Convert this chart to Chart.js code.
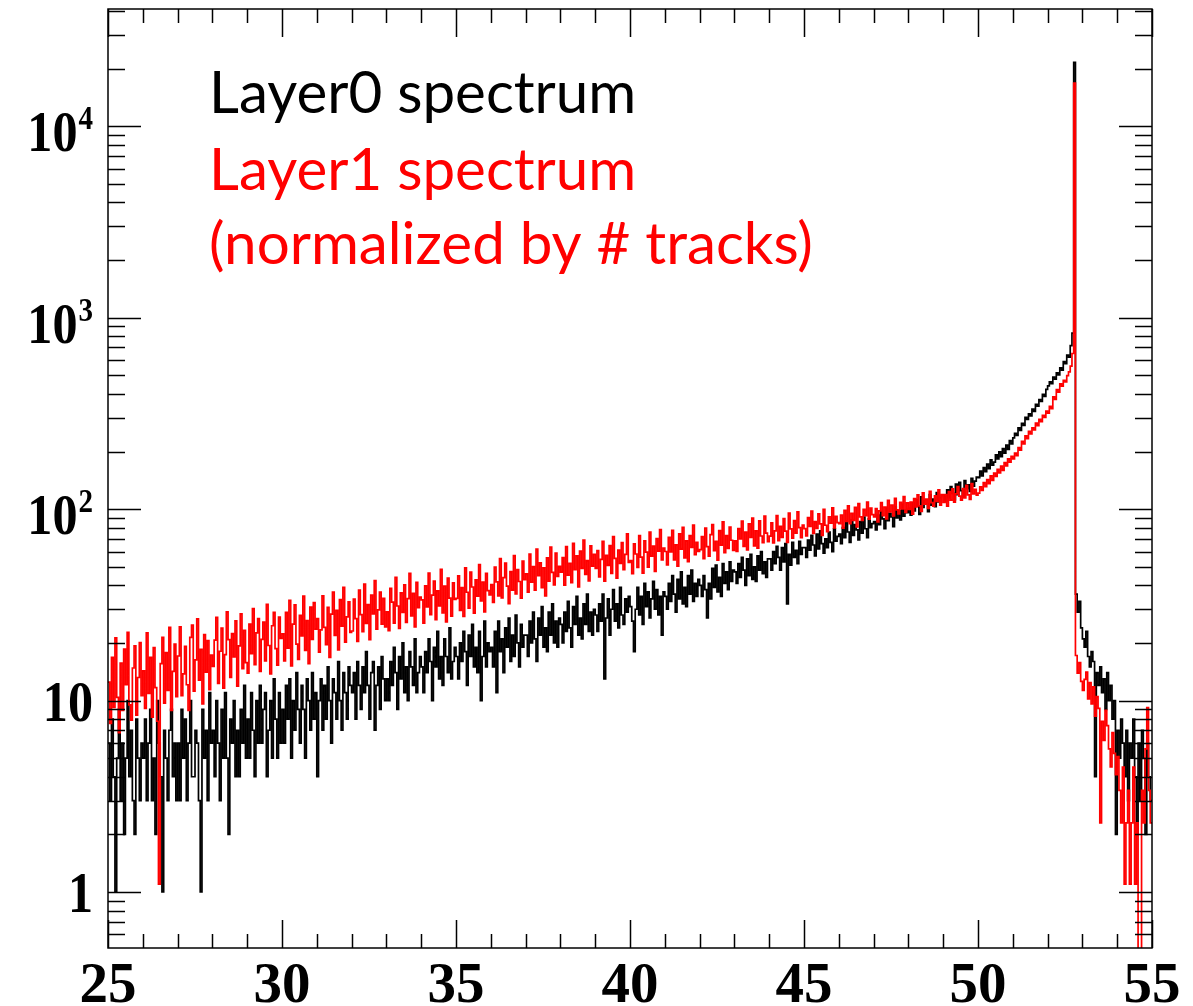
<!DOCTYPE html>
<html><head><meta charset="utf-8">
<script src="https://cdn.jsdelivr.net/npm/chart.js@4.4.1/dist/chart.umd.min.js"></script>
<style>html,body{margin:0;padding:0;background:#fff;} #wrap{width:1193px;height:1006px;position:relative;}</style>
</head><body><div id="wrap"><canvas id="c"></canvas></div>
<script>
// Histogram binning (bin low edges start at 25, width 0.05, 600 bins)
const binStart = 25;
const binWidth = 0.05;

// Layer0 spectrum (black), one row per unit of x
const layer0 = [
  6, 3, 8, 4, 1, 5, 9, 3, 6, 2, 5, 10, 4, 7, 3, 2, 8, 5, 3, 6,
  5, 8, 3, 6, 9, 3, 5, 2, 10, 6, 4, 1, 7, 5, 3, 7, 9, 4, 6, 3,
  6, 3, 9, 5, 8, 3, 6, 10, 4, 4, 7, 6, 3, 1, 9, 5, 7, 3, 11, 6,
  7, 4, 10, 6, 3, 9, 5, 11, 5, 2, 8, 6, 10, 4, 7, 4, 9, 6, 12, 5,
  8, 5, 11, 7, 4, 10, 6, 12, 6, 9, 11, 4, 7, 10, 5, 13, 8, 5, 11, 6,
  9, 6, 12, 8, 13, 5, 10, 7, 14, 9, 6, 12, 9, 5, 13, 10, 7, 14, 8, 11,
  4, 10, 13, 7, 12, 8, 15, 10, 6, 13, 11, 8, 16, 10, 7, 14, 11, 8, 15, 12,
  11, 14, 8, 16, 12, 9, 15, 11, 18, 12, 8, 14, 16, 7, 12, 15, 9, 17, 13, 10,
  13, 10, 16, 12, 19, 14, 9, 17, 13, 20, 11, 15, 10, 18, 15, 12, 21, 11, 14, 17,
  15, 11, 18, 14, 21, 16, 10, 19, 15, 23, 13, 17, 12, 21, 17, 14, 24, 13, 16, 19,
  17, 13, 20, 16, 23, 18, 12, 22, 17, 25, 15, 19, 14, 23, 10, 17, 26, 15, 20, 18,
  19, 15, 23, 11, 26, 18, 21, 14, 24, 19, 27, 16, 22, 17, 28, 20, 15, 25, 19, 22,
  22, 17, 26, 20, 29, 21, 16, 27, 22, 31, 19, 24, 18, 29, 22, 32, 20, 26, 19, 27,
  25, 20, 29, 23, 33, 24, 19, 31, 25, 35, 22, 27, 21, 32, 25, 36, 23, 29, 22, 30,
  28, 23, 32, 26, 36, 13, 27, 34, 22, 30, 38, 26, 32, 24, 39, 28, 25, 34, 29, 35,
  31, 26, 18, 30, 39, 28, 35, 25, 41, 31, 37, 27, 34, 42, 30, 38, 28, 35, 22, 37,
  35, 30, 41, 33, 45, 36, 29, 43, 34, 47, 32, 39, 31, 45, 36, 48, 33, 41, 35, 43,
  40, 35, 45, 38, 27, 41, 34, 49, 39, 51, 37, 44, 35, 52, 41, 47, 38, 53, 42, 48,
  47, 41, 52, 44, 56, 48, 40, 55, 45, 58, 43, 50, 42, 57, 48, 60, 46, 53, 44, 55,
  55, 48, 60, 52, 64, 56, 48, 63, 53, 66, 32, 58, 51, 67, 56, 61, 52, 68, 58, 63,
  63, 56, 69, 61, 73, 65, 57, 74, 62, 77, 66, 59, 70, 63, 76, 67, 60, 79, 68, 72,
  74, 66, 80, 71, 85, 76, 67, 88, 73, 83, 78, 69, 86, 75, 91, 79, 71, 89, 80, 84,
  86, 78, 93, 83, 97, 89, 79, 101, 87, 95, 91, 81, 103, 90, 98, 88, 106, 92, 99, 96,
  101, 93, 108, 98, 112, 104, 94, 116, 102, 111, 107, 97, 119, 105, 113, 103, 122, 109, 115, 118,
  118, 110, 126, 115, 131, 121, 112, 135, 119, 138, 125, 116, 141, 128, 134, 124, 145, 132, 140, 147,
  146, 158, 149, 165, 157, 172, 163, 181, 170, 176, 192, 183, 199, 188, 207, 196, 216, 205, 228, 219,
  236, 249, 243, 266, 258, 281, 274, 302, 294, 315, 307, 333, 324, 353, 345, 374, 365, 398, 388, 422,
  441, 462, 452, 489, 478, 516, 503, 548, 532, 590, 575, 638, 622, 715, 830, 21600, 36, 29, 33, 24,
  21, 19, 23, 17, 15, 18, 16, 4, 14, 12, 15, 11, 13, 9, 14, 10, 12, 8, 10, 2,
  7, 5, 8, 6, 4, 7, 3, 6, 5, 8, 4, 2, 6, 3, 7, 5, 2, 6, 4, 3
];

// Layer1 spectrum (red, normalized by # tracks), same bins
const layer1 = [
  12.5, 7.6, 16.8, 9.2, 21.3, 10.4, 6.8, 15.7, 8.9, 18.6, 12.1, 22.7, 9.5, 7.9, 14.8, 19.3, 8.4, 13.2, 20.1, 10.6,
  14.3, 9.1, 22.6, 10.9, 16.8, 8.2, 18.9, 11.7, 7.8, 1.1, 15.6, 21.4, 9.7, 17.8, 11.3, 24.1, 8.9, 14.2, 19.7, 10.5,
  17.1, 24.3, 10.6, 13.8, 19.2, 12.1, 8.9, 21.4, 24.8, 11.2, 16.3, 26.7, 12.8, 18.5, 9.6, 22.1, 14.1, 20.6, 11.4, 17.3,
  15.1, 20.7, 27.2, 12.3, 18.1, 23.9, 11.6, 17.4, 29.1, 20.8, 13.2, 22.4, 16.9, 26.1, 11.9, 19.3, 28.4, 14.7, 23.3, 15.8,
  13.9, 25.1, 17.6, 30.2, 15.4, 22.6, 26.8, 14.2, 20.9, 25.7, 16.1, 31.8, 19.4, 13.8, 24.6, 28.9, 18.7, 15.3, 27.3, 21.1,
  22.3, 16.1, 28.9, 18.8, 33.4, 15.2, 25.1, 31.6, 19.7, 16.4, 27.9, 21.8, 35.1, 18.3, 26.2, 15.6, 30.8, 20.9, 32.5, 23.6,
  26.8, 17.9, 23.4, 35.2, 24.1, 19.6, 30.7, 16.8, 28.3, 36.9, 21.9, 29.6, 18.4, 33.7, 24.5, 39.1, 20.2, 27.4, 32.8, 22.7,
  23.1, 33.9, 26.8, 20.4, 37.8, 28.1, 22.9, 40.6, 25.3, 31.7, 20.8, 35.6, 28.4, 42.3, 23.6, 29.8, 36.9, 25.1, 34.2, 24.3,
  29.1, 23.2, 38.6, 32.7, 25.4, 44.1, 31.2, 23.8, 36.5, 28.9, 40.2, 25.6, 34.1, 46.2, 27.7, 36.3, 24.3, 41.5, 30.6, 34.7,
  33.6, 25.4, 39.8, 30.9, 46.3, 28.1, 35.6, 42.1, 26.5, 37.4, 31.2, 48.5, 28.7, 39.6, 25.8, 43.7, 34.3, 27.6, 41.2, 33.8,
  34.2, 44.8, 29.6, 38.9, 27.5, 49.3, 36.8, 30.4, 46.9, 39.2, 28.6, 42.7, 35.1, 51.4, 33.2, 41.6, 29.1, 46.2, 37.5, 35.7,
  40.3, 32.6, 49.8, 41.7, 35.2, 55.1, 34.4, 43.9, 52.3, 39.6, 32.1, 47.2, 37.8, 57.2, 36.1, 48.4, 41.9, 34.3, 53.6, 42.8,
  45.9, 36.8, 58.2, 41.6, 50.1, 37.7, 61.8, 44.9, 52.4, 38.9, 49.3, 35.2, 55.7, 42.1, 63.4, 46.8, 40.2, 58.9, 44.6, 50.3,
  46.9, 55.8, 40.1, 63.7, 45.2, 52.1, 41.3, 66.2, 48.3, 57.1, 39.2, 60.4, 49.1, 68.9, 45.6, 53.9, 42.2, 64.3, 50.4, 58.1,
  49.1, 60.8, 44.3, 54.6, 67.9, 42.1, 57.4, 50.9, 64.6, 46.2, 71.8, 55.3, 43.6, 61.2, 52.1, 66.9, 48.3, 58.1, 74.2, 52.7,
  53.8, 46.1, 65.9, 58.3, 49.7, 72.8, 56.2, 46.3, 68.4, 59.7, 49.8, 75.9, 56.9, 64.2, 47.3, 70.1, 60.3, 78.1, 54.4, 62.6,
  60.1, 51.2, 71.2, 59.8, 77.6, 54.3, 65.1, 50.4, 74.2, 61.9, 80.4, 55.7, 68.3, 53.2, 72.8, 63.2, 82.6, 57.8, 67.1, 60.2,
  61.5, 71.8, 55.2, 79.6, 63.8, 56.9, 73.6, 83.1, 60.7, 67.9, 54.1, 77.2, 64.9, 85.9, 59.2, 72.8, 62.4, 80.6, 68.8, 60.9,
  68.4, 60.2, 79.2, 69.9, 86.7, 63.9, 75.8, 61.2, 83.9, 71.1, 89.8, 64.3, 77.1, 62.6, 86.8, 72.4, 66.8, 91.9, 74.9, 67.7,
  72.3, 84.9, 66.7, 77.1, 92.6, 68.4, 81.3, 71.2, 89.4, 76.8, 67.1, 95.3, 78.9, 70.6, 87.2, 74.9, 96.8, 80.1, 70.9, 82.6,
  79.1, 72.6, 90.4, 81.2, 97.8, 74.8, 86.1, 79.3, 94.6, 83.7, 72.9, 99.8, 82.4, 76.2, 91.1, 84.6, 101.7, 79.8, 91.6, 85.1,
  84.1, 93.2, 79.5, 98.6, 86.3, 104.2, 84.1, 95.2, 87.4, 102.1, 80.7, 106.8, 91.2, 87.3, 99.8, 92.4, 108.9, 88.7, 101.3, 93.6,
  91.2, 100.6, 85.8, 97.9, 108.1, 92.4, 102.6, 88.9, 111.2, 96.8, 104.9, 92.1, 113.8, 99.2, 94.6, 108.7, 100.3, 116.4, 96.1, 107.8,
  99.8, 108.9, 94.2, 113.6, 102.8, 118.7, 104.1, 97.2, 121.6, 106.3, 112.8, 100.9, 123.9, 108.2, 103.6, 117.4, 109.8, 126.3, 105.1, 119.2,
  108.4, 119.1, 103.7, 123.4, 111.6, 127.8, 108.9, 120.3, 131.2, 117.1, 111.3, 128.2, 114.6, 133.1, 118.7, 112.4, 135.8, 120.1, 126.9, 118.2,
  121.2, 130.8, 125.4, 137.6, 131.2, 142.8, 136.1, 149.2, 141.3, 154.1, 148.2, 161.3, 154.7, 167.9, 159.6, 175.2, 168.1, 183.4, 176.2, 188.9,
  183.2, 196.1, 190.4, 209.8, 203.3, 226.1, 219.4, 241.2, 233.7, 254.6, 247.1, 266.2, 259.8, 281.3, 273.2, 294.6, 286.4, 309.2, 301.5, 324.8,
  316.9, 344.2, 335.4, 386.1, 374.2, 421.3, 408.5, 452.1, 438.9, 471.3, 462.6, 498.2, 521.4, 558.7, 650.3, 16800, 17.2, 13.9, 15.8, 12.6,
  11.3, 12.9, 14.1, 10.2, 12.4, 9.6, 11.8, 8.3, 10.5, 9.1, 2.3, 7.8, 6.2, 8.9, 7.4, 5.6, 4.5, 6.8, 5.3, 4.1,
  5.1, 3.4, 2.3, 4.5, 1.1, 2.3, 3.4, 1.1, 2.3, 4.5, 1.1, 2.3, 0.2, 0.2, 3.4, 2.3, 5.6, 9.2, 3.4, 2.3
];

// Axis tick labels
const xTickLabels = ['25', '30', '35', '40', '45', '50', '55'];
const yTickValues = [1, 10, 100, 1000, 10000];
const yTickBase = ['1', '10', '10', '10', '10'];
const yTickExp = ['', '', '2', '3', '4'];

// Text block
const legendLines = ['Layer0 spectrum', 'Layer1 spectrum', '(normalized by # tracks)'];
const legendColors = ['#000000', '#ff0000', '#ff0000'];

function toSteps(vals) {
  const pts = vals.map((v, i) => ({ x: binStart + i * binWidth, y: v }));
  pts.push({ x: binStart + vals.length * binWidth, y: vals[vals.length - 1] });
  return pts;
}

const rootAxes = {
  id: 'rootAxes',
  afterDraw(chart) {
    const ctx = chart.ctx;
    const a = chart.chartArea;
    const xs = chart.scales.x, ys = chart.scales.y;
    ctx.save();
    ctx.strokeStyle = '#000';
    ctx.lineWidth = 1.5;
    ctx.strokeRect(a.left, a.top, a.right - a.left, a.bottom - a.top);
    ctx.beginPath();
    for (let v = xs.min; v <= xs.max + 1e-9; v += 1) {
      const px = Math.round(xs.getPixelForValue(v)) + 0.5;
      const len = (Math.round(v) % 5 === 0) ? 28 : 14;
      ctx.moveTo(px, a.bottom); ctx.lineTo(px, a.bottom - len);
      ctx.moveTo(px, a.top); ctx.lineTo(px, a.top + len);
    }
    for (let d = -1; d <= 4; d++) {
      for (let m = 1; m <= 9; m++) {
        const v = m * Math.pow(10, d);
        if (v < ys.min || v > ys.max) continue;
        const py = Math.round(ys.getPixelForValue(v)) + 0.5;
        const len = m === 1 ? 33 : 17;
        ctx.moveTo(a.left, py); ctx.lineTo(a.left + len, py);
        ctx.moveTo(a.right, py); ctx.lineTo(a.right - len, py);
      }
    }
    ctx.stroke();
    ctx.fillStyle = '#000';
    ctx.textAlign = 'center';
    ctx.textBaseline = 'alphabetic';
    ctx.font = 'bold 57px "Liberation Serif", "Times New Roman", serif';
    xTickLabels.forEach(t => {
      const px = xs.getPixelForValue(parseFloat(t));
      ctx.fillText(t, px, 1002);
    });
    const labelRight = 93;
    yTickValues.forEach((v, i) => {
      const py = ys.getPixelForValue(v);
      const base = yTickBase[i], exp = yTickExp[i];
      ctx.save();
      ctx.textAlign = 'left';
      const sx = 0.88;
      ctx.font = 'bold 57px "Liberation Serif", "Times New Roman", serif';
      const bw = ctx.measureText(base).width * sx;
      let ew = 0;
      if (exp) {
        ctx.font = 'bold 33px "Liberation Serif", "Times New Roman", serif';
        ew = ctx.measureText(exp).width * sx;
      }
      const startX = labelRight - bw - (exp ? ew + 1 : 0);
      const baseY = exp ? py + 25 : py + 20;
      ctx.translate(startX, baseY);
      ctx.scale(sx, 1);
      ctx.font = 'bold 57px "Liberation Serif", "Times New Roman", serif';
      ctx.fillText(base, 0, 0);
      if (exp) {
        ctx.font = 'bold 33px "Liberation Serif", "Times New Roman", serif';
        ctx.fillText(exp, (bw + 1) / sx, -22);
      }
      ctx.restore();
    });
    ctx.textAlign = 'left';
    ctx.textBaseline = 'alphabetic';
    const family = 'Lato, "Open Sans", sans-serif';
    ctx.font = '60px ' + family;
    const w0 = ctx.measureText(legendLines[0]).width;
    const fs = 60 * 427 / w0;
    ctx.font = fs.toFixed(1) + 'px ' + family;
    const baselines = [113, 190, 264];
    legendLines.forEach((t, i) => {
      ctx.fillStyle = legendColors[i];
      ctx.fillText(t, 209, baselines[i]);
    });
    ctx.restore();
  }
};

new Chart(document.getElementById('c'), {
  type: 'line',
  data: {
    datasets: [
      { label: 'Layer0 spectrum', data: toSteps(layer0), borderColor: '#000000', borderWidth: 1.7, stepped: 'before', pointRadius: 0, fill: false, order: 2 },
      { label: 'Layer1 spectrum', data: toSteps(layer1), borderColor: '#ff0000', borderWidth: 1.7, stepped: 'before', pointRadius: 0, fill: false, order: 1 }
    ]
  },
  options: {
    responsive: true,
    maintainAspectRatio: false,
    animation: false,
    layout: { padding: { left: 108, right: 41, top: 9, bottom: 58 } },
    plugins: { legend: { display: false }, tooltip: { enabled: false } },
    scales: {
      x: { type: 'linear', min: 25, max: 55, display: false },
      y: { type: 'logarithmic', min: 0.51, max: 41000, display: false }
    }
  },
  plugins: [rootAxes]
});
</script>
</body></html>
